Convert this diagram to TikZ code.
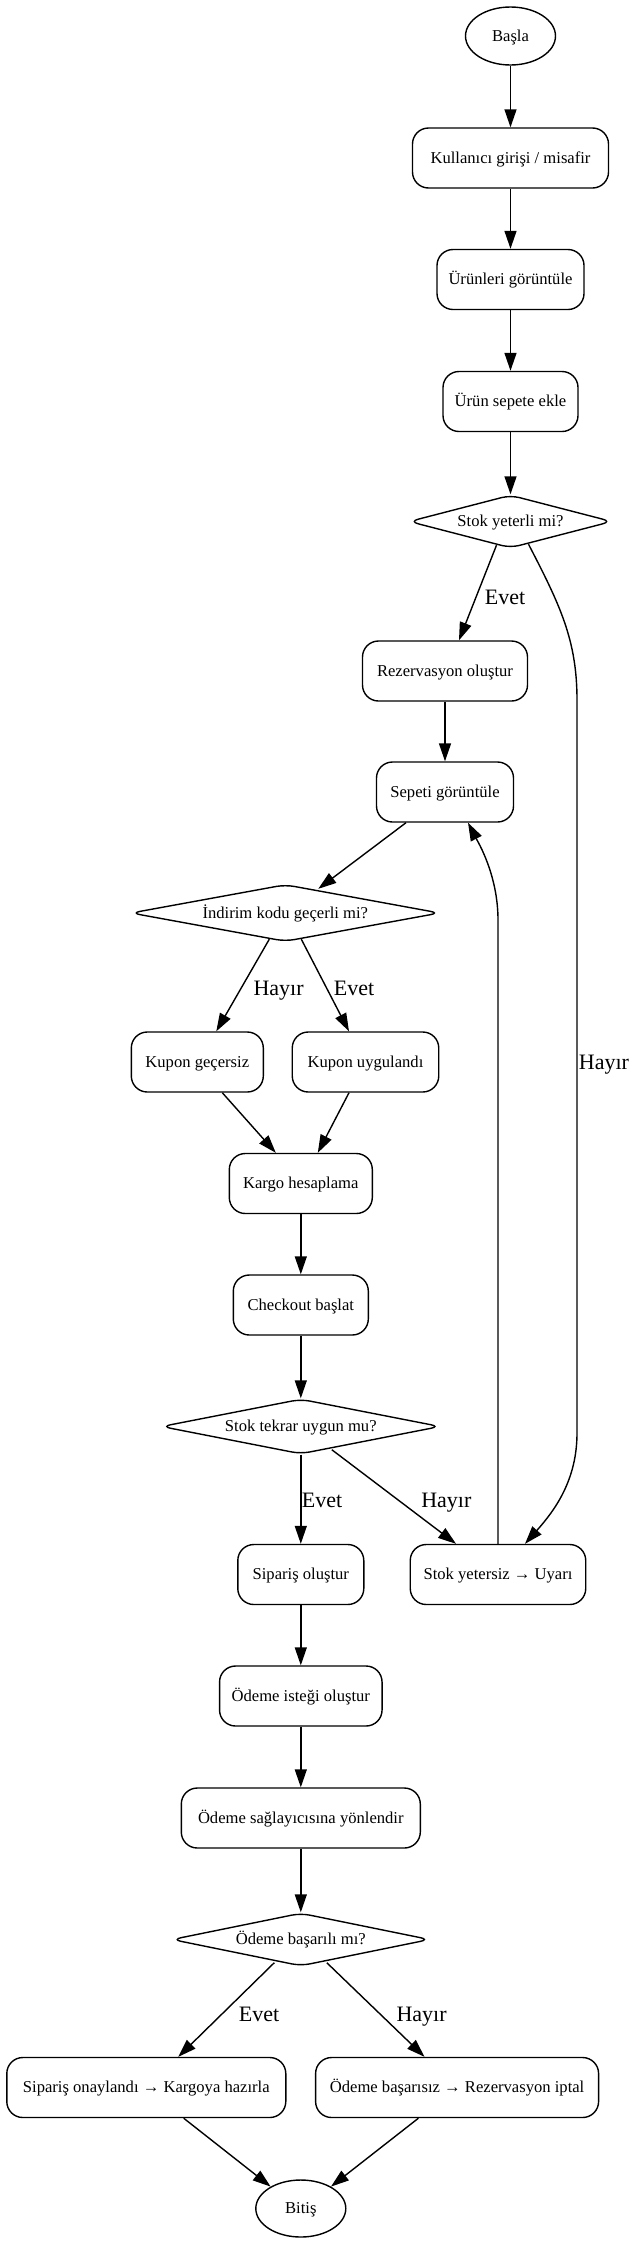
\documentclass[tikz,border=0pt]{standalone}
\usepackage{fontspec}
\setmainfont{Liberation Serif}
\usetikzlibrary{shapes.geometric,arrows.meta}
\newcommand\nfont{\fontsize{16.6}{20}\selectfont}
\newcommand\lfont{\fontsize{22}{26}\selectfont}
\begin{document}
\begin{tikzpicture}[x=1pt,y=1pt,
  proc/.style={draw, rectangle, rounded corners=16pt, line width=1.4pt, minimum height=60pt, inner sep=0pt, font=\nfont, text height=14pt, text depth=3.4pt},
  dec/.style={draw, diamond, rounded corners=9pt, line width=1.4pt, inner sep=0pt, font=\nfont, text height=14pt, text depth=3.4pt},
  term/.style={draw, ellipse, line width=1.4pt, inner sep=0pt, font=\nfont, text height=14pt, text depth=3.4pt, minimum width=90pt, minimum height=58pt},
  arr/.style={-{Triangle[length=18pt,width=12pt]}, line width=1.4pt},
  lbl/.style={font=\lfont, inner sep=0pt, anchor=base}]
\useasboundingbox (0,0) rectangle (641,-2246);
% nodes
\node[term] (start) at (510.5,-36) {Başla};
\node[proc, minimum width=196pt] (login) at (510.5,-158) {Kullanıcı girişi / misafir};
\node[proc, minimum width=147pt] (view) at (510.5,-279.5) {Ürünleri görüntüle};
\node[proc, minimum width=135pt] (add) at (510.5,-401.5) {Ürün sepete ekle};
\node[dec, minimum width=203pt, minimum height=53pt, aspect=3.83] (stock1) at (510.5,-521.5) {Stok yeterli mi?};
\node[proc, minimum width=165pt] (rez) at (445,-671) {Rezervasyon oluştur};
\node[proc, minimum width=137pt] (cart) at (445,-792) {Sepeti görüntüle};
\node[dec, minimum width=309pt, minimum height=57pt, aspect=5.4] (coupon) at (285.3,-913) {İndirim kodu geçerli mi?};
\node[proc, minimum width=132pt] (inv) at (197.3,-1062) {Kupon geçersiz};
\node[proc, minimum width=146.5pt] (ok) at (365.5,-1062) {Kupon uygulandı};
\node[proc, minimum width=143pt] (ship) at (300.8,-1183.5) {Kargo hesaplama};
\node[proc, minimum width=135pt] (checkout) at (300.8,-1305) {Checkout başlat};
\node[dec, minimum width=279pt, minimum height=55pt, aspect=5.07] (stock2) at (300.8,-1426.5) {Stok tekrar uygun mu?};
\node[proc, minimum width=126pt] (order) at (300.8,-1574.5) {Sipariş oluştur};
\node[proc, minimum width=175.5pt] (warn) at (498,-1574.5) {Stok yetersiz → Uyarı};
\node[proc, minimum width=162.5pt] (payreq) at (300.8,-1696) {Ödeme isteği oluştur};
\node[proc, minimum width=239pt] (redirect) at (300.8,-1818) {Ödeme sağlayıcısına yönlendir};
\node[dec, minimum width=258pt, minimum height=53pt, aspect=4.87] (paid) at (300.8,-1939.5) {Ödeme başarılı mı?};
\node[proc, minimum width=279pt] (confirm) at (146.3,-2087.5) {Sipariş onaylandı → Kargoya hazırla};
\node[proc, minimum width=283pt] (fail) at (457.1,-2087.5) {Ödeme başarısız → Rezervasyon iptal};
\node[term, minimum height=57pt] (end) at (300.8,-2208.5) {Bitiş};
% edges
\draw[arr] (start) -- (login);
\draw[arr] (login) -- (view);
\draw[arr] (view) -- (add);
\draw[arr] (add) -- (stock1);
\draw[arr] ([xshift=-14pt,yshift=3.5pt]stock1.south) -- ([xshift=14pt]rez.north);
\node[lbl] (l1) at (505,-604) {Evet};
\draw[arr] ([xshift=18pt,yshift=4.5pt]stock1.south) .. controls (560,-605) and (577,-640) .. (577,-700) -- (577,-1433) .. controls (577,-1480) and (555,-1510) .. ([xshift=27pt]warn.north);
\node[lbl] (l2) at (604,-1069) {Hayır};
\draw[arr] (rez) -- (cart);
\draw[arr] ([xshift=-39pt]cart.south) -- ([xshift=33pt,yshift=-5pt]coupon.north);
\draw[arr] ([xshift=-16pt,yshift=3pt]coupon.south) -- ([xshift=19pt]inv.north);
\node[lbl] (l3) at (278.6,-995) {Hayır};
\draw[arr] ([xshift=16pt,yshift=3pt]coupon.south) -- ([xshift=-16.5pt]ok.north);
\node[lbl] (l4) at (354,-995) {Evet};
\draw[arr] ([xshift=25pt]inv.south) -- ([xshift=-25pt]ship.north);
\draw[arr] ([xshift=-16.5pt]ok.south) -- ([xshift=17pt]ship.north);
\draw[arr] (ship) -- (checkout);
\draw[arr] (checkout) -- (stock2);
\draw[arr] (stock2) -- (order);
\node[lbl] (l5) at (322,-1507.7) {Evet};
\draw[arr] ([xshift=31pt,yshift=5pt]stock2.south) -- ([xshift=-42pt]warn.north);
\node[lbl] (l6) at (446.3,-1507.7) {Hayır};
\draw[arr] (warn.north) -- (498,-920) .. controls (498,-875) and (478,-842) .. ([xshift=23pt]cart.south);
\draw[arr] (order) -- (payreq);
\draw[arr] (payreq) -- (redirect);
\draw[arr] (redirect) -- (paid);
\draw[arr] ([xshift=-26.5pt,yshift=4pt]paid.south) -- ([xshift=32pt]confirm.north);
\node[lbl] (l7) at (259,-2021) {Evet};
\draw[arr] ([xshift=26pt,yshift=4pt]paid.south) -- ([xshift=-32.6pt]fail.north);
\node[lbl] (l8) at (421.6,-2021) {Hayır};
\draw[arr] ([xshift=37.4pt]confirm.south) -- (end.144);
\draw[arr] ([xshift=-38.7pt]fail.south) -- (end.36);
\end{tikzpicture}
\end{document}
